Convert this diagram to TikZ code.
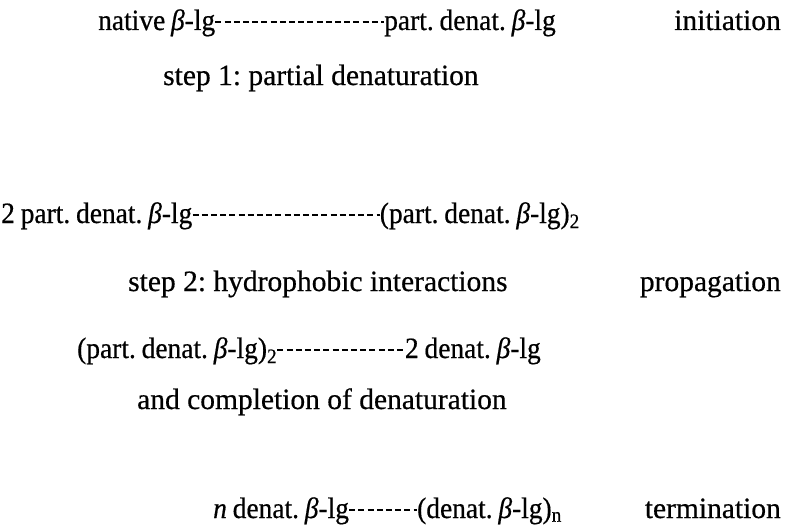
\documentclass[tikz,border=0pt]{standalone}
\usepackage{fontspec}
\setmainfont{Liberation Serif}[FakeBold=0.5]
\newfontfamily\chemfont{Liberation Serif}[FakeBold=0.5, FakeStretch=0.93, WordSpace=0.85]
\newcommand{\bta}{{\itshape β}}
\tikzset{
  txt/.style={inner sep=0pt, font=\fontsize{29.5}{34}\selectfont\frenchspacing},
  chem/.style={inner sep=0pt, font=\chemfont\fontsize{29.5}{34}\selectfont\frenchspacing},
  link/.style={line width=2.1pt, dash pattern=on 6pt off 3.2pt}
}
\begin{document}
\begin{tikzpicture}[x=1pt,y=-1pt]
\useasboundingbox (0,0) rectangle (794,527);
% line 1
\node[chem, anchor=base west] (a1) at (98,30) {native \bta-lg};
\node[chem, anchor=base east] (a2) at (556,30) {part. denat. \bta-lg};
\node[txt, anchor=base east] (ini) at (781,30) {initiation};
\draw[link] ([yshift=8pt]a1.base east) -- ([yshift=8pt]a2.base west);
\node[txt, anchor=base west] (s1) at (163,85) {step 1: partial denaturation};
% line 3
\node[chem, anchor=base west] (b1) at (1,223) {2 part. denat. \bta-lg};
\node[chem, anchor=base east] (b2) at (580,223) {(part. denat. \bta-lg)\textsubscript{2}};
\draw[link] ([yshift=8pt]b1.base east) -- ([yshift=8pt]b2.base west);
\node[txt, anchor=base west] (s2) at (128,291) {step 2: hydrophobic interactions};
\node[txt, anchor=base east] (pro) at (781,291) {propagation};
% line 5
\node[chem, anchor=base west] (c1) at (77,358) {(part. denat. \bta-lg)\textsubscript{2}};
\node[chem, anchor=base east] (c2) at (541,358) {2 denat. \bta-lg};
\draw[link] ([yshift=8pt]c1.base east) -- ([yshift=8pt]c2.base west);
\node[txt, anchor=base west] (s3) at (137,409) {and completion of denaturation};
% line 7
\node[chem, anchor=base west] (d1) at (213,518) {\textit{n} denat. \bta-lg};
\node[chem, anchor=base east] (d2) at (562,518) {(denat. \bta-lg)\textsubscript{n}};
\node[txt, anchor=base east] (ter) at (781,518) {termination};
\draw[link] ([yshift=8pt]d1.base east) -- ([yshift=8pt]d2.base west);
\end{tikzpicture}
\end{document}
